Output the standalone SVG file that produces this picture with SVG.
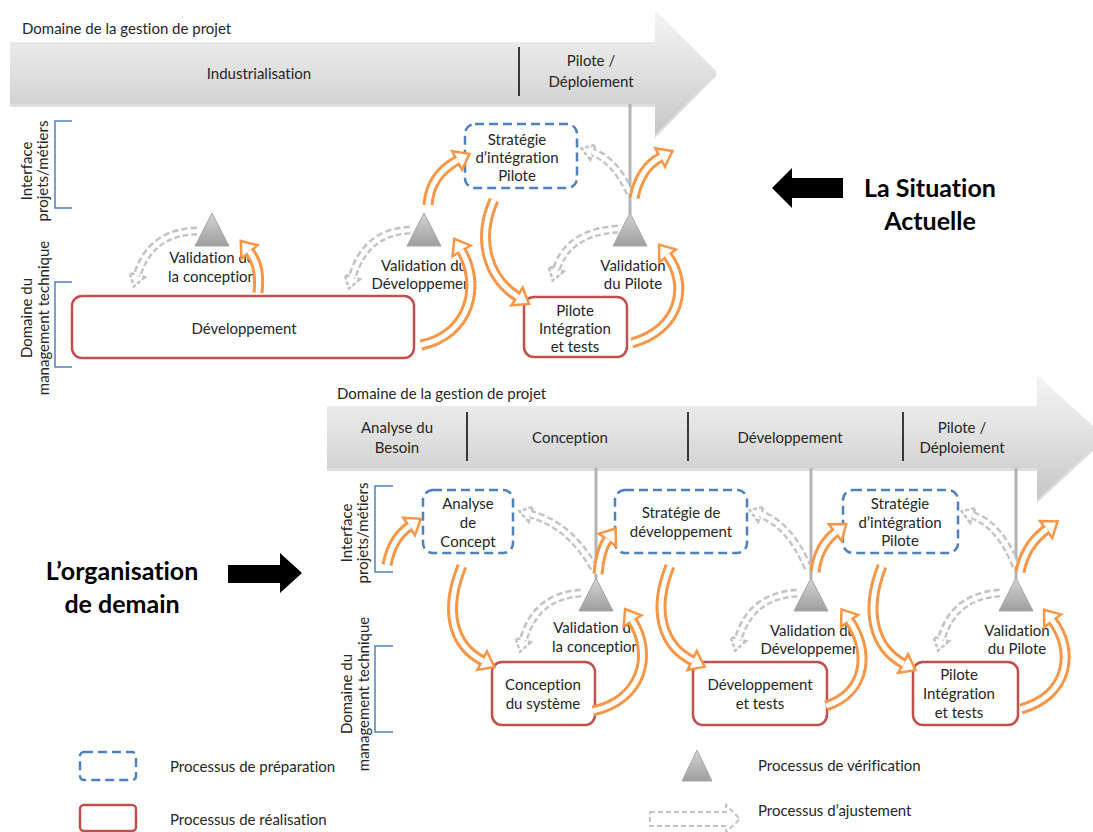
<svg xmlns="http://www.w3.org/2000/svg" width="1093" height="832" viewBox="0 0 1093 832">
<style>
text{font-family:Lato,"Liberation Sans",sans-serif;font-size:15px;fill:#262626;font-variant-ligatures:none}
.c{text-anchor:middle}
.b{font-weight:bold;font-size:25px;fill:#000}
.prep{fill:#fff;stroke:#4f81bd;stroke-width:2.5;stroke-dasharray:9 5}
.real{fill:#fff;stroke:#c0504d;stroke-width:2.5}
.brk{fill:none;stroke:#4f81bd;stroke-width:1.5}
.vl{stroke:#b3b3b3;stroke-width:3}
.tri{fill:url(#tg);stroke:#a6a6a6;stroke-width:1}
.oo{fill:none;stroke:#f79646;stroke-width:11;marker-end:url(#oh)}
.oi{fill:none;stroke:#fff;stroke-width:5}
.go{fill:none;stroke:#c4c4c4;stroke-width:9;stroke-dasharray:6 3;marker-end:url(#gh)}
.gi{fill:none;stroke:#fff;stroke-width:4}
</style>
<defs>
<linearGradient id="bar1" gradientUnits="userSpaceOnUse" x1="0" y1="10" x2="0" y2="135">
<stop offset="0" stop-color="#f4f4f4"/><stop offset="0.45" stop-color="#e2e2e2"/><stop offset="1" stop-color="#c6c6c6"/>
</linearGradient>
<linearGradient id="bar2" gradientUnits="userSpaceOnUse" x1="0" y1="375" x2="0" y2="500">
<stop offset="0" stop-color="#f4f4f4"/><stop offset="0.45" stop-color="#e2e2e2"/><stop offset="1" stop-color="#c6c6c6"/>
</linearGradient>
<linearGradient id="tg" x1="0" y1="0" x2="0" y2="1">
<stop offset="0" stop-color="#d4d4d4"/><stop offset="1" stop-color="#9e9e9e"/>
</linearGradient>
<marker id="oh" markerUnits="userSpaceOnUse" markerWidth="40" markerHeight="40" viewBox="-20 -20 40 40" refX="0" refY="0" orient="auto" overflow="visible">
<path d="M-1,-10.5 L13,0 L-1,10.5 Z" fill="#fff" stroke="#f79646" stroke-width="2.5"/>
</marker>
<marker id="gh" markerUnits="userSpaceOnUse" markerWidth="40" markerHeight="40" viewBox="-20 -20 40 40" refX="0" refY="0" orient="auto" overflow="visible">
<path d="M-1,-8 L11,0 L-1,8 Z" fill="#fff" stroke="#c4c4c4" stroke-width="2.5" stroke-dasharray="4 2"/>
</marker>
</defs>

<!-- TOP: current situation -->
<g id="top-bar">
<text x="22" y="34">Domaine de la gestion de projet</text>
<path d="M10 45 H655 V13 L717 75 L655 138 V107 H10 Z" fill="#bdbdbd" opacity="0.5"/>
<path d="M10 42 H655 V10 L717 72 L655 135 V104 H10 Z" fill="url(#bar1)"/>
<line x1="519" y1="47" x2="519" y2="96" stroke="#000" stroke-width="1.5"/>
<text class="c" x="259" y="79">Industrialisation</text>
<text class="c" x="591" y="66">Pilote /</text>
<text class="c" x="591" y="87">Déploiement</text>
</g>
<g id="top-brackets">
<path class="brk" d="M72 121 H55 V208 H72"/>
<path class="brk" d="M72 282 H55 V367 H72"/>
<text class="c" transform="translate(32 171) rotate(-90)">Interface</text>
<text class="c" transform="translate(48 171) rotate(-90)">projets/métiers</text>
<text class="c" transform="translate(32 318) rotate(-90)">Domaine du</text>
<text class="c" transform="translate(49 318) rotate(-90)">management technique</text>
</g>
<line class="vl" x1="630" y1="104" x2="630" y2="214"/>
<g id="top-dev">
<rect class="real" x="72" y="296" width="342" height="62" rx="10"/>
<text class="c" x="244" y="334">Développement</text>
</g>
<g id="top-strat">
<rect class="prep" x="465" y="124" width="112" height="64" rx="10"/>
<text class="c" x="517" y="145">Stratégie</text>
<text class="c" x="517" y="163">d’intégration</text>
<text class="c" x="517" y="181">Pilote</text>
</g>
<g id="top-pilote">
<rect class="real" x="524" y="297" width="103" height="60" rx="10"/>
<text class="c" x="575" y="316">Pilote</text>
<text class="c" x="575" y="334">Intégration</text>
<text class="c" x="575" y="352">et tests</text>
</g>
<g id="top-val1">
<polygon class="tri" points="212,213 229,246 195,246"/>
<text class="c" x="212" y="263">Validation de</text>
<text class="c" x="212" y="282">la conception</text>
</g>
<g id="top-val2">
<polygon class="tri" points="424,213 441,246 407,246"/>
<text class="c" x="424" y="271">Validation du</text>
<text class="c" x="424" y="289">Développement</text>
</g>
<g id="top-val3">
<polygon class="tri" points="630,213 647,246 613,246"/>
<text class="c" x="633" y="271">Validation</text>
<text class="c" x="633" y="289">du Pilote</text>
</g>

<!-- BOTTOM: tomorrow -->
<g id="bot-bar">
<text x="337" y="399">Domaine de la gestion de projet</text>
<path d="M327 409 H1037 V378 L1105 440 L1037 503 V471 H327 Z" fill="#bdbdbd" opacity="0.5"/>
<path d="M327 406 H1037 V375 L1105 437 L1037 500 V468 H327 Z" fill="url(#bar2)"/>
<line x1="467" y1="412" x2="467" y2="461" stroke="#000" stroke-width="1.5"/>
<line x1="688" y1="412" x2="688" y2="461" stroke="#000" stroke-width="1.5"/>
<line x1="903" y1="412" x2="903" y2="461" stroke="#000" stroke-width="1.5"/>
<text class="c" x="397" y="433">Analyse du</text>
<text class="c" x="397" y="453">Besoin</text>
<text class="c" x="570" y="443">Conception</text>
<text class="c" x="790" y="443">Développement</text>
<text class="c" x="962" y="433">Pilote /</text>
<text class="c" x="962" y="453">Déploiement</text>
</g>
<g id="bot-brackets">
<path class="brk" d="M393 486 H375 V572 H393"/>
<path class="brk" d="M393 646 H375 V732 H393"/>
<text class="c" transform="translate(352 533) rotate(-90)">Interface</text>
<text class="c" transform="translate(368 533) rotate(-90)">projets/métiers</text>
<text class="c" transform="translate(352 694) rotate(-90)">Domaine du</text>
<text class="c" transform="translate(369 694) rotate(-90)">management technique</text>
</g>
<line class="vl" x1="596" y1="468" x2="596" y2="579"/>
<line class="vl" x1="811" y1="468" x2="811" y2="579"/>
<line class="vl" x1="1016" y1="468" x2="1016" y2="579"/>
<g id="bot-analyse">
<rect class="prep" x="423" y="490" width="90" height="63" rx="10"/>
<text class="c" x="468" y="509">Analyse</text>
<text class="c" x="468" y="528">de</text>
<text class="c" x="468" y="547">Concept</text>
</g>
<g id="bot-stratdev">
<rect class="prep" x="615" y="490" width="132" height="63" rx="10"/>
<text class="c" x="681" y="518">Stratégie de</text>
<text class="c" x="681" y="537">développement</text>
</g>
<g id="bot-stratint">
<rect class="prep" x="843" y="490" width="115" height="63" rx="10"/>
<text class="c" x="900" y="509">Stratégie</text>
<text class="c" x="900" y="528">d’intégration</text>
<text class="c" x="900" y="546">Pilote</text>
</g>
<g id="bot-concsys">
<rect class="real" x="492" y="662" width="103" height="63" rx="10"/>
<text class="c" x="543" y="690">Conception</text>
<text class="c" x="543" y="709">du système</text>
</g>
<g id="bot-devtests">
<rect class="real" x="693" y="662" width="134" height="63" rx="10"/>
<text class="c" x="760" y="690">Développement</text>
<text class="c" x="760" y="709">et tests</text>
</g>
<g id="bot-pilote">
<rect class="real" x="913" y="662" width="105" height="63" rx="10"/>
<text class="c" x="959" y="680">Pilote</text>
<text class="c" x="959" y="699">Intégration</text>
<text class="c" x="959" y="718">et tests</text>
</g>
<g id="bot-val1">
<polygon class="tri" points="596,578 613,611 579,611"/>
<text class="c" x="596" y="633">Validation de</text>
<text class="c" x="596" y="652">la conception</text>
</g>
<g id="bot-val2">
<polygon class="tri" points="811,578 828,611 794,611"/>
<text class="c" x="813" y="636">Validation du</text>
<text class="c" x="813" y="654">Développement</text>
</g>
<g id="bot-val3">
<polygon class="tri" points="1016,578 1033,611 999,611"/>
<text class="c" x="1017" y="636">Validation</text>
<text class="c" x="1017" y="654">du Pilote</text>
</g>

<!-- connectors -->
<g id="connectors">
<path class="go" d="M197 231 Q150 232 137 276"/><path class="gi" d="M197 231 Q150 232 137 276"/>
<path class="go" d="M410 230 Q365 232 352 278"/><path class="gi" d="M410 230 Q365 232 352 278"/>
<path class="go" d="M618 229 Q568 232 556 270"/><path class="gi" d="M618 229 Q568 232 556 270"/>
<path class="go" d="M630 193 Q615 160 592 152"/><path class="gi" d="M630 193 Q615 160 592 152"/>
<path class="oo" d="M258 293 C260 275 258 262 249 251"/><path class="oi" d="M258 293 C260 275 258 262 249 251"/>
<path class="oo" d="M421 345 C470 335 482 285 461 250"/><path class="oi" d="M421 345 C470 335 482 285 461 250"/>
<path class="oo" d="M428 205 Q430 175 458 160"/><path class="oi" d="M428 205 Q430 175 458 160"/>
<path class="oo" d="M494 200 C476 240 488 278 518 297"/><path class="oi" d="M494 200 C476 240 488 278 518 297"/>
<path class="oo" d="M632 343 C680 330 690 285 667 255"/><path class="oi" d="M632 343 C680 330 690 285 667 255"/>
<path class="oo" d="M634 198 Q640 168 661 157"/><path class="oi" d="M634 198 Q640 168 661 157"/>

<path class="go" d="M581 593 Q535 596 523 641"/><path class="gi" d="M581 593 Q535 596 523 641"/>
<path class="go" d="M594 568 Q570 525 530 514"/><path class="gi" d="M594 568 Q570 525 530 514"/>
<path class="go" d="M797 593 Q750 596 738 640"/><path class="gi" d="M797 593 Q750 596 738 640"/>
<path class="go" d="M808 568 Q790 525 760 514"/><path class="gi" d="M808 568 Q790 525 760 514"/>
<path class="go" d="M1000 593 Q953 596 941 640"/><path class="gi" d="M1000 593 Q953 596 941 640"/>
<path class="go" d="M1016 566 Q1000 525 972 515"/><path class="gi" d="M1016 566 Q1000 525 972 515"/>
<path class="oo" d="M387 565 Q392 538 410 526"/><path class="oi" d="M387 565 Q392 538 410 526"/>
<path class="oo" d="M462 566 C444 610 452 645 483 661"/><path class="oi" d="M462 566 C444 610 452 645 483 661"/>
<path class="oo" d="M593 711 C642 700 654 655 632 620"/><path class="oi" d="M593 711 C642 700 654 655 632 620"/>
<path class="oo" d="M598 574 Q600 550 608 539"/><path class="oi" d="M598 574 Q600 550 608 539"/>
<path class="oo" d="M670 566 C652 610 662 646 693 661"/><path class="oi" d="M670 566 C652 610 662 646 693 661"/>
<path class="oo" d="M826 706 C868 692 870 650 849 620"/><path class="oi" d="M826 706 C868 692 870 650 849 620"/>
<path class="oo" d="M815 572 Q818 546 836 532"/><path class="oi" d="M815 572 Q818 546 836 532"/>
<path class="oo" d="M882 566 C864 612 874 648 904 664"/><path class="oi" d="M882 566 C864 612 874 648 904 664"/>
<path class="oo" d="M1021 709 C1070 695 1075 650 1052 620"/><path class="oi" d="M1021 709 C1070 695 1075 650 1052 620"/>
<path class="oo" d="M1020 572 Q1025 545 1047 529"/><path class="oi" d="M1020 572 Q1025 545 1047 529"/>
</g>

<!-- side labels -->
<g id="situation">
<polygon points="772,188 792,168 792,178 843,178 843,198 792,198 792,208" fill="#000"/>
<text class="c b" x="930" y="197">La Situation</text>
<text class="c b" x="930" y="230">Actuelle</text>
</g>
<g id="demain">
<polygon points="228,565 280,565 280,553 302,573 280,593 280,583 228,583" fill="#000"/>
<text class="c b" x="122" y="580">L’organisation</text>
<text class="c b" x="122" y="613">de demain</text>
</g>

<!-- legend -->
<g id="legend">
<rect class="prep" x="80" y="752" width="56" height="28" rx="4"/>
<text x="170" y="772">Processus de préparation</text>
<rect class="real" x="80" y="805" width="56" height="26" rx="4"/>
<text x="170" y="825">Processus de réalisation</text>
<polygon class="tri" points="697,750 712,781 682,781"/>
<text x="758" y="771">Processus de vérification</text>
<path d="M650 812 H726 V805 L740 819 L726 832 V826 H650 Z" fill="#fff" stroke="#c4c4c4" stroke-width="2" stroke-dasharray="5 3"/>
<text x="758" y="816">Processus d’ajustement</text>
</g>
</svg>
